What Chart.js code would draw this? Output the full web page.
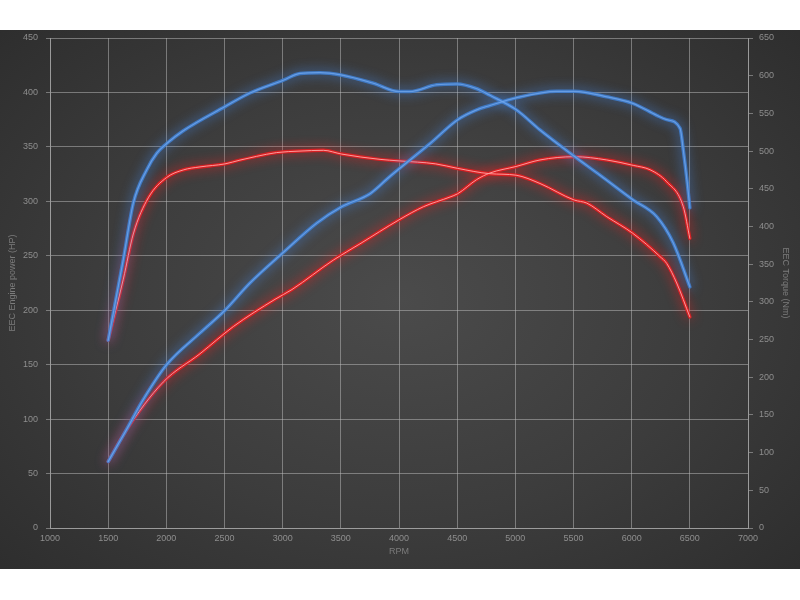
<!DOCTYPE html>
<html>
<head>
<meta charset="utf-8">
<script src="https://cdn.jsdelivr.net/npm/chart.js@4"></script>
<style>
  html, body { margin: 0; padding: 0; background: #ffffff; width: 800px; height: 600px; overflow: hidden; }
  #wrap {
    position: absolute; left: 0; top: 30px; width: 800px; height: 539px;
    background: radial-gradient(ellipse 70% 75% at 50% 50%, #4b4b4b 0%, #3c3c3c 55%, #2d2d2d 100%);
  }
  canvas { display: block; }
</style>
</head>
<body>
<div id="wrap"><canvas id="c"></canvas></div>
<script>
// ---- data ----
const xTickMin = 1000, xTickMax = 7000, xStep = 500;
const hpMax = 450, hpStep = 50;
const nmMax = 650, nmStep = 50;

const powerBlueRpm = [1500,1645,1802,2003,2289,2504,2719,3005,3293,3507,3751,3923,4266,4505,4668,4782,5006,5356,5507,5786,6009,6215,6301,6416,6444,6478,6500];
const powerBlueHp  = [61,88,118,150,179,200,225,253,280,295,307,323,353,375,384,388,395,401,401,396,390,379,375,367,347,317,294];

const powerRedRpm = [1500,1645,1973,2289,2576,2934,3080,3435,3665,4000,4209,4439,4505,4668,4782,5006,5212,5507,5786,6014,6158,6301,6444,6500];
const powerRedHp  = [61,88,134,160,185,210,219,246,261,283,295,304,307,320,326,332,338,341,338,333,329,318,295,266];

const torqueBlueRpm = [1500,1630,1716,1831,1917,2003,2146,2505,2719,3006,3149,3321,3500,3779,4000,4094,4324,4500,4663,4782,5006,5212,5507,5728,6014,6215,6358,6500];
const torqueBlueNm  = [249,356,431,475,497,510,527,559,577,594,603,604,601,590,579,579,588,589,583,574,555,528,493,468,435,413,378,320];

const torqueRedRpm = [1500,1630,1716,1845,2003,2146,2289,2504,2633,2776,2948,3149,3350,3507,3837,4000,4316,4505,4782,5006,5212,5507,5614,5786,6009,6244,6301,6387,6500];
const torqueRedNm  = [249,330,390,438,465,475,479,483,488,493,498,500,501,496,489,487,483,477,470,468,457,435,431,413,391,360,351,325,280];

const xTitle = 'RPM';
const leftTitle = 'EEC Engine power (HP)';
const rightTitle = 'EEC Torque (Nm)';

// ---- build ----
const pts = (xs, ys) => xs.map((x, i) => ({ x: x, y: ys[i] }));

function glowSet(data, axis, color, width, glow, blur) {
  return { data, yAxisID: axis, borderColor: color, borderWidth: width, glow, blur,
           pointRadius: 0, fill: false, cubicInterpolationMode: 'monotone',
           borderCapStyle: 'round', borderJoinStyle: 'round' };
}

const bluePow = pts(powerBlueRpm, powerBlueHp);
const blueTq  = pts(torqueBlueRpm, torqueBlueNm);
const redPow  = pts(powerRedRpm, powerRedHp);
const redTq   = pts(torqueRedRpm, torqueRedNm);

// index 0 is drawn on top
const datasets = [
  glowSet(bluePow, 'yHp', 'rgba(110,165,235,0.85)', 1.2, null, 0),
  glowSet(blueTq,  'yNm', 'rgba(110,165,235,0.85)', 1.2, null, 0),
  glowSet(bluePow, 'yHp', 'rgba(64,126,206,0.9)', 3.5, 'rgba(70,140,240,0.95)', 12),
  glowSet(blueTq,  'yNm', 'rgba(64,126,206,0.9)', 3.5, 'rgba(70,140,240,0.95)', 12),
  glowSet(redPow,  'yHp', 'rgba(255,160,160,0.95)', 1, null, 0),
  glowSet(redTq,   'yNm', 'rgba(255,160,160,0.95)', 1, null, 0),
  glowSet(redPow,  'yHp', 'rgba(225,30,34,0.92)', 3.5, 'rgba(255,30,30,0.95)', 12),
  glowSet(redTq,   'yNm', 'rgba(225,30,34,0.92)', 3.5, 'rgba(255,30,30,0.95)', 12),
];

const glowPlugin = {
  id: 'glow',
  beforeDatasetDraw(chart, args) {
    const ds = chart.data.datasets[args.index];
    chart.ctx.save();
    if (ds.glow) {
      chart.ctx.shadowColor = ds.glow;
      chart.ctx.shadowBlur = ds.blur;
    }
  },
  afterDatasetDraw(chart) { chart.ctx.restore(); }
};

const gridColor = 'rgba(190,190,190,0.5)';
const tickFont = { family: 'Liberation Sans', size: 9 };
const tickColor = '#8e8e8e';
const titleColor = '#7c7c7c';
const plain = v => String(v);

new Chart(document.getElementById('c'), {
  type: 'line',
  data: { datasets },
  plugins: [glowPlugin],
  options: {
    responsive: true,
    maintainAspectRatio: false,
    animation: false,
    layout: { padding: { top: 8, right: 0, left: 0, bottom: 0 } },
    plugins: { legend: { display: false }, tooltip: { enabled: false } },
    scales: {
      x: {
        type: 'linear', position: 'bottom', min: xTickMin, max: xTickMax,
        ticks: { stepSize: xStep, color: tickColor, font: tickFont, padding: 5, maxRotation: 0, autoSkip: false, callback: plain },
        grid: { color: gridColor, lineWidth: 1, drawTicks: false },
        border: { color: gridColor },
        title: { display: true, text: xTitle, color: titleColor, font: { family: 'Liberation Sans', size: 9 }, padding: { top: 0, bottom: 11.6 } },
        afterFit(s) { s.height = 41; s.paddingLeft = 0; s.paddingRight = 0; }
      },
      yHp: {
        type: 'linear', position: 'left', min: 0, max: hpMax,
        ticks: { stepSize: hpStep, color: tickColor, font: tickFont, padding: 8, callback: plain },
        grid: { color: gridColor, lineWidth: 1, tickLength: 4 },
        border: { color: gridColor },
        title: { display: true, text: leftTitle, color: titleColor, font: { family: 'Liberation Sans', size: 9 }, padding: { top: 7.6, bottom: 0 } },
        afterFit(s) { s.width = 50; s.paddingTop = 0; s.paddingBottom = 0; }
      },
      yNm: {
        type: 'linear', position: 'right', min: 0, max: nmMax,
        ticks: { stepSize: nmStep, color: tickColor, font: tickFont, padding: 6, callback: plain },
        grid: { color: gridColor, lineWidth: 1, tickLength: 5, drawOnChartArea: false },
        border: { color: gridColor },
        title: { display: true, text: rightTitle, color: titleColor, font: { family: 'Liberation Sans', size: 9 }, padding: { top: 9.6, bottom: 0 } },
        afterFit(s) { s.width = 52; s.paddingTop = 0; s.paddingBottom = 0; }
      }
    }
  }
});
</script>
</body>
</html>
